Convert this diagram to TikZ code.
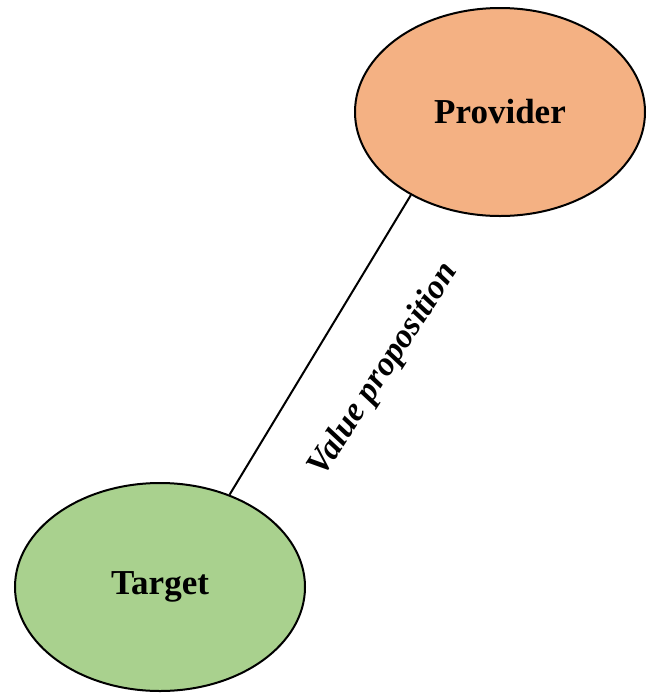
\documentclass[tikz,border=0pt]{standalone}
\usepackage{fontspec}
\setmainfont{Liberation Serif}
\usetikzlibrary{shapes.geometric}
\definecolor{provfill}{HTML}{F4B183}
\definecolor{targfill}{HTML}{A9D18E}
\begin{document}
\begin{tikzpicture}[x=1pt,y=-1pt,
  blob/.style={ellipse,draw=black,line width=2pt,minimum width=290pt,minimum height=208pt,inner sep=0pt,
    font=\fontsize{35}{40}\selectfont\bfseries},
  link/.style={line width=2pt,black}]
\useasboundingbox (0,0) rectangle (646,694);
\node[blob,fill=provfill] (P) at (500,112) {Provider};
\node[blob,fill=targfill] (T) at (160,587) {Target};
\draw[link] (P.223) -- (T.53);
\node[rotate=57,font=\fontsize{34}{38}\selectfont\bfseries\itshape] (L) at (384,370) {Value proposition};
\end{tikzpicture}
\end{document}
